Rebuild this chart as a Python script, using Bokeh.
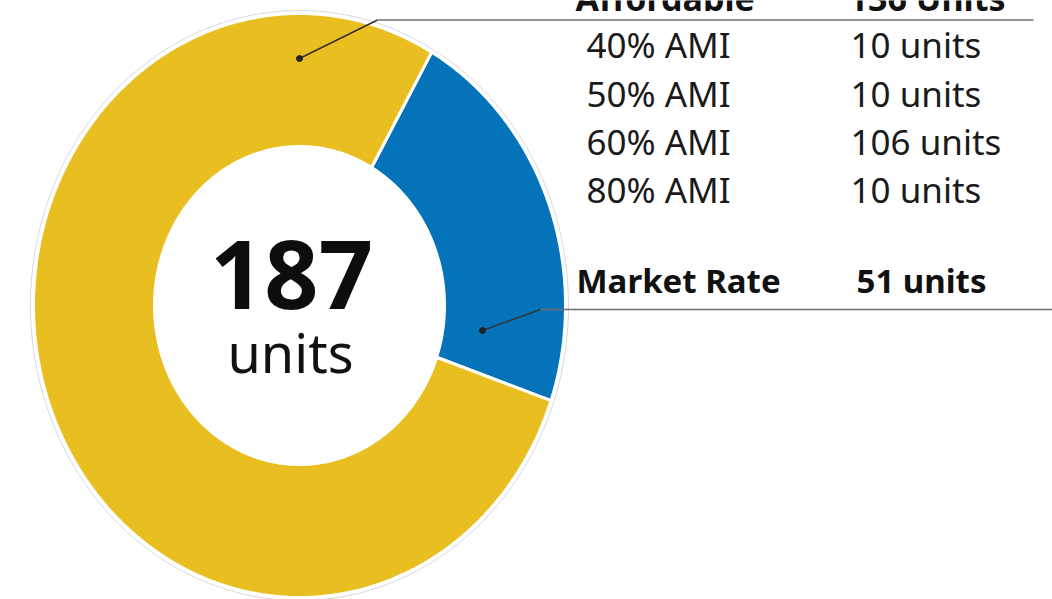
import numpy as np
from bokeh.plotting import figure
from bokeh.models import Range1d, ColumnDataSource
from bokeh.core.properties import value
from bokeh.embed import file_html
from bokeh.resources import INLINE

# ---------------- data ----------------
categories = ["Market Rate", "Affordable"]
category_units = [51, 136]
drawn_share = [22.0, 78.0]          # share of the ring as drawn in the source graphic (%)
slice_colors = ["#0473BA", "#E8BE20"]
total_units = 187
ami_levels = ["40% AMI", "50% AMI", "60% AMI", "80% AMI"]
ami_units = [10, 10, 106, 10]

# ---------------- layout constants ----------------
W, H = 1052, 599
CX, CY = 299, 305
RX_OUT, RY_OUT = 266, 292
RX_IN, RY_IN = 145, 159
START_DEG = -19.0
FONT = "Noto Sans"
BASE_K = 0.39   # correction so that y is the visible baseline


def base(y, fs):
    return y - BASE_K * fs


p = figure(width=W, height=H, x_range=Range1d(0, W), y_range=Range1d(H, 0),
           output_backend="svg", toolbar_location=None, min_border=0)
p.axis.visible = False
p.grid.visible = False
p.outline_line_color = None
p.background_fill_color = "white"

# ring slices (ellipse-shaped ring, as in the picture)
xs, ys = [], []
a0 = np.deg2rad(START_DEG)
for share in drawn_share:
    a1 = a0 + np.deg2rad(share / 100.0 * 360.0)
    t = np.linspace(a0, a1, 200)
    ox = CX + RX_OUT * np.cos(t)
    oy = CY - RY_OUT * np.sin(t)
    ix = CX + RX_IN * np.cos(t[::-1])
    iy = CY - RY_IN * np.sin(t[::-1])
    xs.append(list(np.concatenate([ox, ix])))
    ys.append(list(np.concatenate([oy, iy])))
    a0 = a1
src = ColumnDataSource(dict(xs=xs, ys=ys, color=slice_colors, name=categories))
p.patches("xs", "ys", source=src, fill_color="color", line_color="white", line_width=3)

# faint outer outline
t = np.linspace(0, 2 * np.pi, 400)
p.line(CX + (RX_OUT + 3) * np.cos(t), CY - (RY_OUT + 3) * np.sin(t),
       line_color="#d8d8d8", line_width=1)

# centre total
p.text(x=[291], y=[base(311, 95)], text=[str(total_units)], text_font=value(FONT),
       text_font_size="95px", text_font_style="bold", text_color="#0d0d0d",
       text_align="center", text_baseline="alphabetic")
p.text(x=[290], y=[base(373, 54)], text=["units"], text_font=value(FONT),
       text_font_size="54px", text_color="#111111",
       text_align="center", text_baseline="alphabetic")

# leader lines
p.line([377, 1033], [19.5, 19.5], line_color="#6e6e6e", line_width=1.5)
p.line([299, 377], [58, 19.5], line_color="#333333", line_width=1.5)
p.line([540, 1052], [309, 309], line_color="#6e6e6e", line_width=1.5)
p.line([482, 540], [330, 309], line_color="#333333", line_width=1.5)
p.scatter([299, 482], [58, 330], size=6, color="#222222")

# table texts
aff_total = sum(ami_units)
p.text(x=[575, 848], y=[base(11, 34)] * 2, text=["Affordable", f"{aff_total} Units"],
       text_font=value(FONT), text_font_size="34px", text_font_style="bold",
       text_color="#111111", text_baseline="alphabetic")

row_y = [base(y, 35) for y in [58, 107, 155, 203]]
p.text(x=[586] * 4, y=row_y, text=ami_levels, text_font=value(FONT),
       text_font_size="35px", text_color="#1a1a1a", text_baseline="alphabetic")
p.text(x=[850] * 4, y=row_y, text=[f"{u} units" for u in ami_units],
       text_font=value(FONT), text_font_size="35px", text_color="#1a1a1a",
       text_baseline="alphabetic")

p.text(x=[576, 856], y=[base(293, 33)] * 2,
       text=[categories[0], f"{category_units[0]} units"],
       text_font=value(FONT), text_font_size="33px", text_font_style="bold",
       text_color="#111111", text_baseline="alphabetic")

open("out.html", "w").write(file_html(p, INLINE))
